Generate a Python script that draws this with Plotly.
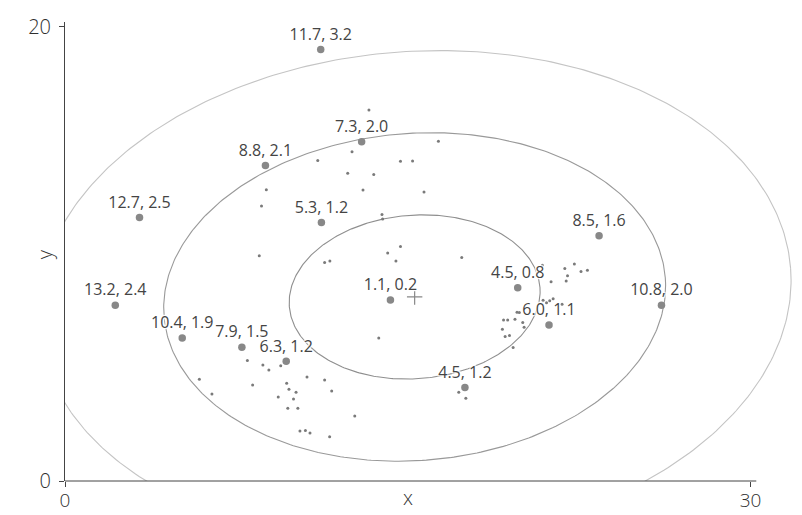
import numpy as np
import plotly.graph_objects as go

# Background observations
dot_x = [13.30, 16.34, 12.56, 11.06, 14.68, 15.21, 12.37, 13.51, 8.81, 13.04,
         15.71, 8.60, 13.87, 13.90, 8.50, 14.68, 14.12, 14.48, 11.36, 11.59,
         17.36, 13.73, 20.89, 21.87, 22.29, 22.58, 22.86, 21.99, 21.93, 21.27,
         20.92, 21.07, 21.21, 21.36, 21.75, 19.78, 19.88, 19.69, 20.03, 20.09,
         19.19, 19.37, 19.14, 19.26, 19.45, 19.61, 17.23, 17.54, 7.98, 8.66,
         8.92, 9.44, 5.88, 6.43, 8.21, 9.70, 9.80, 10.11, 9.33, 10.00,
         10.59, 11.36, 11.67, 9.75, 10.19, 12.68, 10.28, 10.52, 10.72, 11.58]
dot_y = [16.33, 14.95, 14.49, 14.10, 14.07, 14.08, 13.54, 13.49, 12.82, 12.81,
         12.72, 12.10, 11.73, 11.53, 9.91, 10.32, 10.03, 9.68, 9.62, 9.68,
         9.84, 6.29, 9.50, 9.35, 9.55, 9.22, 9.28, 9.03, 8.80, 8.77,
         7.96, 7.85, 7.93, 8.02, 7.78, 7.43, 7.42, 7.12, 6.97, 6.77,
         7.09, 7.09, 6.68, 6.36, 6.40, 5.87, 3.91, 3.64, 5.30, 5.10,
         4.89, 5.07, 4.48, 3.83, 4.22, 4.30, 4.04, 3.91, 3.70, 3.61,
         4.58, 4.44, 3.96, 3.20, 3.20, 2.86, 2.20, 2.22, 2.11, 1.95]

# Highlighted observations with their "distance, mahalanobis" labels
pt_x = [11.19, 12.98, 8.77, 3.26, 11.22, 23.37, 19.81, 14.24, 2.20, 26.10,
        21.18, 5.13, 7.74, 9.68, 17.50]
pt_y = [18.99, 14.93, 13.88, 11.60, 11.38, 10.79, 8.50, 7.97, 7.74, 7.74,
        6.87, 6.29, 5.89, 5.27, 4.11]
pt_labels = ["11.7, 3.2", "7.3, 2.0", "8.8, 2.1", "12.7, 2.5", "5.3, 1.2",
             "8.5, 1.6", "4.5, 0.8", "1.1, 0.2", "13.2, 2.4", "10.8, 2.0",
             "6.0, 1.1", "10.4, 1.9", "7.9, 1.5", "6.3, 1.2", "4.5, 1.2"]

# Distribution centre and 1-sigma ellipse geometry
center_x = 15.3
center_y = 8.1
semi_major = 5.5
semi_minor = 3.6
angle_deg = 4.4
sigma_levels = [1, 2, 3]
level_colors = ["#8f8f8f", "#999999", "#c4c4c4"]

x_ticks = [0, 30]
y_ticks = [0, 20]

LIGHT = "Open Sans"
fig = go.Figure()

t = np.linspace(0, 2 * np.pi, 400)
th = np.deg2rad(angle_deg)
for k, col in zip(sigma_levels, level_colors):
    ex = k * semi_major * np.cos(t)
    ey = k * semi_minor * np.sin(t)
    fig.add_trace(go.Scatter(
        x=center_x + ex * np.cos(th) - ey * np.sin(th),
        y=center_y + ex * np.sin(th) + ey * np.cos(th),
        mode="lines", line=dict(color=col, width=1.1),
        hoverinfo="skip", showlegend=False))

fig.add_trace(go.Scatter(
    x=dot_x, y=dot_y, mode="markers",
    marker=dict(size=3, color="#7a7a7a"),
    showlegend=False))

fig.add_trace(go.Scatter(
    x=[center_x], y=[center_y], mode="markers",
    marker=dict(symbol="cross-thin", size=11,
                line=dict(color="#888888", width=1.2)),
    showlegend=False))

halo = ("-1px -1px 1px #fff, 1px -1px 1px #fff, -1px 1px 1px #fff, "
        "1px 1px 1px #fff, 0 0 3px #fff")
fig.add_trace(go.Scatter(
    x=pt_x, y=pt_y, mode="markers+text",
    marker=dict(size=7.5, color="#888888"),
    text=pt_labels, textposition="top center",
    textfont=dict(family=LIGHT, size=16, color="#444444", shadow=halo),
    cliponaxis=False, showlegend=False))

tickfont = dict(family=LIGHT, size=20, color="#2f2f2f", weight=300)
xtickfont = dict(family=LIGHT, size=19, color="#2f2f2f", weight=300)
fig.update_layout(
    width=802, height=515,
    margin=dict(l=65, r=0, t=22, b=34, autoexpand=False),
    paper_bgcolor="white", plot_bgcolor="white",
    xaxis=dict(range=[0, 32.25], tickvals=x_ticks, ticks="outside",
               ticklen=5, tickcolor="#444", showline=False,
               showgrid=False, zeroline=False, tickfont=xtickfont,
               ticklabelstandoff=-3, automargin=False),
    xaxis2=dict(overlaying="x", matches="x", anchor="y", tickvals=x_ticks,
                ticks="inside", ticklen=5, tickcolor="#444",
                showticklabels=False, showgrid=False, zeroline=False,
                showline=False, automargin=False),
    yaxis=dict(range=[0, 20.2], tickvals=y_ticks, ticks="outside",
               ticklen=5, tickcolor="#444", showline=True, linecolor="#444",
               linewidth=1, showgrid=False, zeroline=False,
               tickfont=tickfont, ticklabelstandoff=4, automargin=False),
    yaxis2=dict(overlaying="y", matches="y", anchor="x", tickvals=y_ticks,
                ticks="inside", ticklen=5, tickcolor="#444",
                showticklabels=False, showgrid=False, zeroline=False,
                showline=False, automargin=False),
    shapes=[dict(type="line", xref="x", yref="paper", x0=0, x1=30.25,
                 y0=0, y1=0, line=dict(color="#444", width=1))],
    annotations=[
        dict(text="x", xref="x", yref="paper", x=15, y=-0.035,
             xanchor="center", yanchor="middle", showarrow=False,
             font=dict(family=LIGHT, size=20, color="#333", weight=300)),
        dict(text="y", xref="paper", yref="y", x=-0.028, y=10,
             xanchor="center", yanchor="middle", showarrow=False,
             textangle=-90,
             font=dict(family=LIGHT, size=20, color="#333", weight=300)),
    ],
)

fig.write_html("out.html")
